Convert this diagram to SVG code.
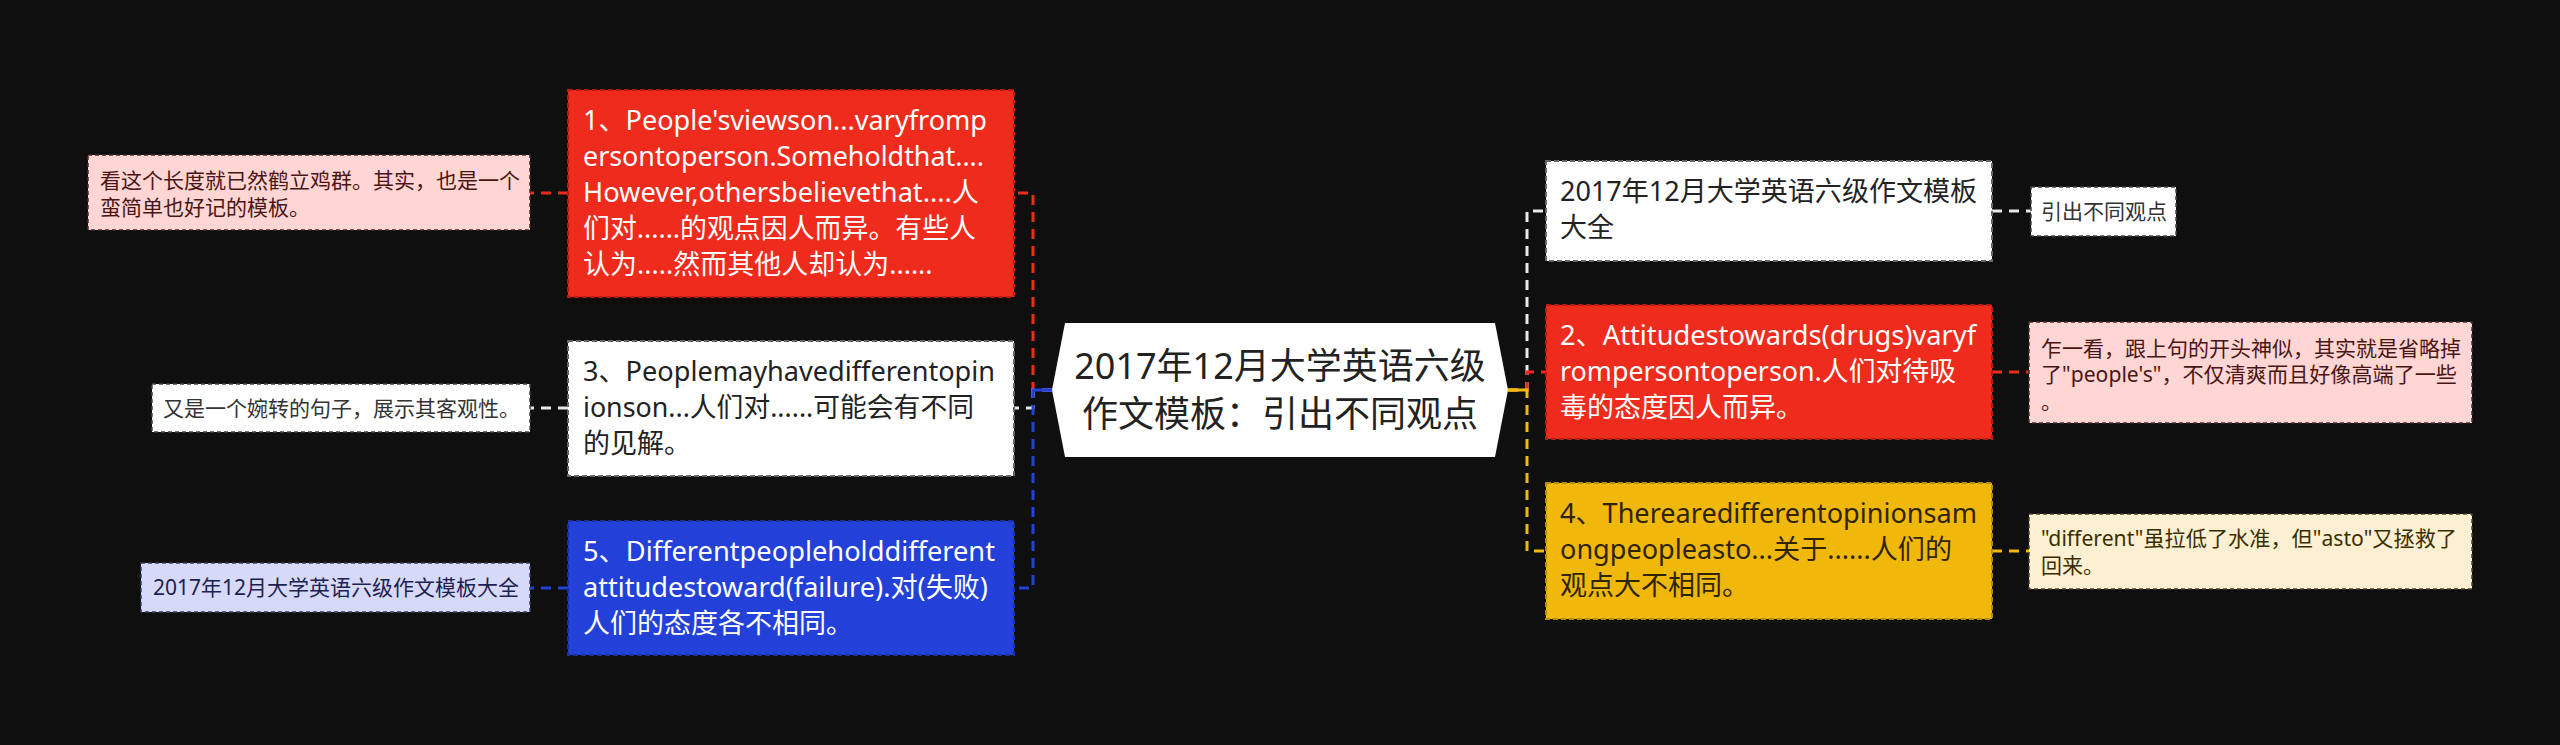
<svg xmlns="http://www.w3.org/2000/svg" width="2560" height="745" viewBox="0 0 2560 745">
<style>
.t{font-family:"Noto Sans","Noto Sans CJK SC",sans-serif;}
.main{font-size:27px;}
.note{font-size:21px;}
.ctr{font-size:36px;fill:#222;}
.wt{fill:#ffffff;}
.dk{fill:#222222;}
.yk{fill:#2e2400;}
.pk{fill:#4a1515;}
.lv{fill:#1c2150;}
.ck{fill:#3a2e00;}
.gk{fill:#333333;}
.bx{stroke-width:2;stroke-dasharray:5 3;}
.nb{stroke-width:1.5;stroke-dasharray:4 3;}
.c{fill:none;stroke-width:3;stroke-dasharray:10 7;}
</style>
<rect x="0" y="0" width="2560" height="745" fill="#0f0f0f"/>

<g id="connectors">
  <path class="c" stroke="#ee2b1c" d="M1052,390 H1033 V193 H1014"/>
  <path class="c" stroke="#e8e8e8" d="M1052,390 H1033 V408 H1014"/>
  <path class="c" stroke="#2340d8" d="M1052,390 H1033 V588 H1014"/>
  <line x1="1033" y1="390" x2="1052" y2="390" stroke="#2340d8" stroke-width="3"/>
  <path class="c" stroke="#e8e8e8" d="M1508,390 H1527 V211 H1546"/>
  <path class="c" stroke="#ee2b1c" d="M1508,390 H1527 V372 H1546"/>
  <path class="c" stroke="#f0b80b" d="M1508,390 H1527 V551 H1546"/>
  <line x1="1508" y1="390" x2="1527" y2="390" stroke="#f0b80b" stroke-width="3"/>
  <line class="c" stroke="#ee2b1c" x1="568" y1="193" x2="530" y2="193"/>
  <line class="c" stroke="#e8e8e8" x1="568" y1="408" x2="530" y2="408"/>
  <line class="c" stroke="#2340d8" x1="568" y1="588" x2="530" y2="588"/>
  <line class="c" stroke="#e8e8e8" x1="1992" y1="211" x2="2031" y2="211"/>
  <line class="c" stroke="#ee2b1c" x1="1992" y1="372" x2="2029" y2="372"/>
  <line class="c" stroke="#f0b80b" x1="1992" y1="551" x2="2029" y2="551"/>
</g>

<g id="center">
  <polygon points="1052,390 1065,323 1495,323 1508,390 1495,457 1065,457" fill="#ffffff"/>
  <text class="t ctr" x="1280" y="379" text-anchor="middle">2017年12月大学英语六级</text>
  <text class="t ctr" x="1280" y="427" text-anchor="middle">作文模板：引出不同观点</text>
</g>

<g id="node1">
  <rect class="bx" x="568" y="90" width="446" height="207" fill="#ee2b1c" stroke="#b81c10"/>
  <text class="t main wt" x="583" y="129.5" textLength="404" lengthAdjust="spacingAndGlyphs">1、People'sviewson...varyfromp</text>
  <text class="t main wt" x="583" y="165.5" textLength="401" lengthAdjust="spacingAndGlyphs">ersontoperson.Someholdthat....</text>
  <text class="t main wt" x="583" y="201.5" textLength="396" lengthAdjust="spacingAndGlyphs">However,othersbelievethat....人</text>
  <text class="t main wt" x="583" y="237.5" textLength="393" lengthAdjust="spacingAndGlyphs">们对......的观点因人而异。有些人</text>
  <text class="t main wt" x="583" y="273.5">认为.....然而其他人却认为......</text>
</g>

<g id="node3">
  <rect class="bx" x="568" y="341" width="446" height="135" fill="#ffffff" stroke="#666666"/>
  <text class="t main dk" x="583" y="380.5" textLength="412" lengthAdjust="spacingAndGlyphs">3、Peoplemayhavedifferentopin</text>
  <text class="t main dk" x="583" y="416.5" textLength="391" lengthAdjust="spacingAndGlyphs">ionson...人们对......可能会有不同</text>
  <text class="t main dk" x="583" y="452.5">的见解。</text>
</g>

<g id="node5">
  <rect class="bx" x="568" y="521" width="446" height="134" fill="#2340d8" stroke="#1a2fa0"/>
  <text class="t main wt" x="583" y="560.5" textLength="412" lengthAdjust="spacingAndGlyphs">5、Differentpeopleholddifferent</text>
  <text class="t main wt" x="583" y="596.5" textLength="405" lengthAdjust="spacingAndGlyphs">attitudestoward(failure).对(失败)</text>
  <text class="t main wt" x="583" y="632.5">人们的态度各不相同。</text>
</g>

<g id="nodeR0">
  <rect class="bx" x="1546" y="161" width="446" height="100" fill="#ffffff" stroke="#666666"/>
  <text class="t main dk" x="1560" y="200.5" textLength="417" lengthAdjust="spacingAndGlyphs">2017年12月大学英语六级作文模板</text>
  <text class="t main dk" x="1560" y="236.5">大全</text>
</g>

<g id="node2">
  <rect class="bx" x="1546" y="305" width="446" height="134" fill="#ee2b1c" stroke="#b81c10"/>
  <text class="t main wt" x="1560" y="344.5" textLength="416" lengthAdjust="spacingAndGlyphs">2、Attitudestowards(drugs)varyf</text>
  <text class="t main wt" x="1560" y="380.5" textLength="396" lengthAdjust="spacingAndGlyphs">rompersontoperson.人们对待吸</text>
  <text class="t main wt" x="1560" y="416.5">毒的态度因人而异。</text>
</g>

<g id="node4">
  <rect class="bx" x="1546" y="483" width="446" height="136" fill="#f0b80b" stroke="#b88a00"/>
  <text class="t main yk" x="1560" y="522.5" textLength="417" lengthAdjust="spacingAndGlyphs">4、Therearedifferentopinionsam</text>
  <text class="t main yk" x="1560" y="558.5" textLength="392" lengthAdjust="spacingAndGlyphs">ongpeopleasto...关于......人们的</text>
  <text class="t main yk" x="1560" y="594.5">观点大不相同。</text>
</g>

<g id="note1">
  <rect class="nb" x="88" y="155" width="442" height="75" fill="#ffd6d3" stroke="#4a2a2a"/>
  <text class="t note pk" x="100" y="188">看这个长度就已然鹤立鸡群。其实，也是一个</text>
  <text class="t note pk" x="100" y="214.5">蛮简单也好记的模板。</text>
</g>

<g id="note3">
  <rect class="nb" x="152" y="384" width="378" height="48" fill="#ffffff" stroke="#444444"/>
  <text class="t note gk" x="163" y="415.5">又是一个婉转的句子，展示其客观性。</text>
</g>

<g id="note5">
  <rect class="nb" x="141" y="563" width="389" height="49" fill="#d6daf8" stroke="#3a3f66"/>
  <text class="t note lv" x="153" y="595">2017年12月大学英语六级作文模板大全</text>
</g>

<g id="noteR0">
  <rect class="nb" x="2031" y="187" width="145" height="49" fill="#ffffff" stroke="#444444"/>
  <text class="t note gk" x="2041" y="218.5">引出不同观点</text>
</g>

<g id="noteR2">
  <rect class="nb" x="2029" y="322" width="443" height="101" fill="#ffd6d3" stroke="#4a2a2a"/>
  <text class="t note pk" x="2041" y="355.5">乍一看，跟上句的开头神似，其实就是省略掉</text>
  <text class="t note pk" x="2041" y="382" textLength="416" lengthAdjust="spacingAndGlyphs">了"people's"，不仅清爽而且好像高端了一些</text>
  <text class="t note pk" x="2041" y="408.5">。</text>
</g>

<g id="noteR4">
  <rect class="nb" x="2029" y="514" width="443" height="75" fill="#fdf0d2" stroke="#4a402a"/>
  <text class="t note ck" x="2041" y="546" textLength="416" lengthAdjust="spacingAndGlyphs">"different"虽拉低了水准，但"asto"又拯救了</text>
  <text class="t note ck" x="2041" y="572.5">回来。</text>
</g>
</svg>
